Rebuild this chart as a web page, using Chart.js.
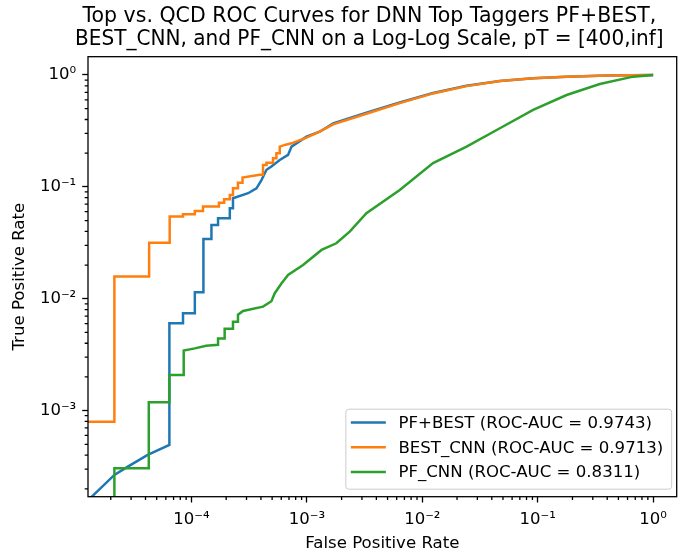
<!DOCTYPE html>
<html>
<head>
<meta charset="utf-8">
<script src="https://cdn.jsdelivr.net/npm/chart.js@4.4.0/dist/chart.umd.min.js"></script>
<style>
    html, body { margin: 0; padding: 0; background: #fff; }
    #wrap { width: 679px; height: 554px; }
</style>
</head>
<body>
<div id="wrap"><canvas id="rocChart" width="679" height="554"></canvas></div>
<script>
// --- DATOS ---
const pfBestFpr = [1.19e-5, 1.40e-5, 2.15e-5, 2.81e-5, 4.18e-5, 6.44e-5, 6.44e-5, 8.45e-5, 8.45e-5, 1.07e-4,
    1.07e-4, 1.27e-4, 1.27e-4, 1.49e-4, 1.49e-4, 1.70e-4, 1.70e-4, 2.15e-4, 2.15e-4, 2.29e-4,
    2.29e-4, 3.10e-4, 3.66e-4, 4.04e-4, 4.47e-4, 4.93e-4, 5.82e-4, 6.87e-4, 7.36e-4, 9.93e-4,
    1.29e-3, 1.69e-3, 3.28e-3, 6.38e-3, 1.24e-2, 2.42e-2, 4.70e-2, 9.13e-2, 0.178, 0.40, 1.0];
const pfBestTpr = [1.48e-4, 1.74e-4, 2.66e-4, 3.16e-4, 4.02e-4, 4.94e-4, 6.04e-3, 6.04e-3, 7.42e-3, 7.42e-3,
    1.14e-2, 1.14e-2, 3.42e-2, 3.42e-2, 4.57e-2, 4.57e-2, 5.24e-2, 5.24e-2, 6.44e-2, 6.44e-2,
    7.91e-2, 8.77e-2, 9.71e-2, 0.115, 0.142, 0.152, 0.174, 0.193, 0.229, 0.281,
    0.311, 0.370, 0.460, 0.568, 0.690, 0.800, 0.885, 0.935, 0.966, 0.990, 1.0];

const bestCnnFpr = [1.0e-5, 2.15e-5, 2.15e-5, 4.30e-5, 4.30e-5, 6.48e-5, 6.48e-5, 8.45e-5, 8.45e-5, 1.07e-4,
    1.07e-4, 1.26e-4, 1.26e-4, 1.73e-4, 1.73e-4, 1.92e-4, 1.92e-4, 2.15e-4, 2.15e-4, 2.29e-4,
    2.29e-4, 2.53e-4, 2.53e-4, 2.77e-4, 2.77e-4, 3.91e-4, 4.17e-4, 4.17e-4, 4.47e-4, 4.47e-4,
    5.09e-4, 5.09e-4, 5.45e-4, 5.45e-4, 5.82e-4, 5.82e-4, 6.43e-4, 7.36e-4, 9.93e-4, 1.29e-3,
    1.69e-3, 3.28e-3, 6.38e-3, 1.24e-2, 2.42e-2, 4.70e-2, 9.13e-2, 0.178, 0.40, 1.0];
const bestCnnTpr = [7.97e-4, 7.97e-4, 1.58e-2, 1.58e-2, 3.17e-2, 3.17e-2, 5.42e-2, 5.42e-2, 5.69e-2, 5.69e-2,
    6.09e-2, 6.09e-2, 6.66e-2, 6.66e-2, 7.22e-2, 7.22e-2, 7.75e-2, 7.75e-2, 8.47e-2, 8.47e-2,
    9.71e-2, 9.71e-2, 0.109, 0.109, 0.121, 0.128, 0.128, 0.157, 0.157, 0.164,
    0.164, 0.180, 0.180, 0.200, 0.200, 0.229, 0.237, 0.245, 0.275, 0.311,
    0.362, 0.450, 0.560, 0.684, 0.795, 0.882, 0.933, 0.965, 0.990, 1.0];

const pfCnnFpr = [2.15e-5, 2.15e-5, 4.27e-5, 4.27e-5, 6.44e-5, 6.44e-5, 8.57e-5, 8.57e-5, 1.07e-4, 1.34e-4,
    1.70e-4, 1.70e-4, 1.94e-4, 1.94e-4, 2.29e-4, 2.29e-4, 2.53e-4, 2.53e-4, 2.80e-4, 4.17e-4,
    4.93e-4, 5.27e-4, 6.02e-4, 6.87e-4, 9.27e-4, 1.34e-3, 1.80e-3, 2.35e-3, 3.28e-3, 6.38e-3,
    1.24e-2, 2.42e-2, 4.70e-2, 9.13e-2, 0.178, 0.345, 0.671, 1.0];
const pfCnnTpr = [1.0e-4, 3.05e-4, 3.05e-4, 1.19e-3, 1.19e-3, 2.08e-3, 2.08e-3, 3.44e-3, 3.60e-3, 3.80e-3,
    3.87e-3, 4.40e-3, 4.40e-3, 5.40e-3, 5.40e-3, 6.24e-3, 6.24e-3, 7.20e-3, 7.78e-3, 8.50e-3,
    9.50e-3, 1.12e-2, 1.37e-2, 1.63e-2, 2.00e-2, 2.73e-2, 3.13e-2, 3.98e-2, 5.81e-2, 9.38e-2,
    0.163, 0.229, 0.334, 0.487, 0.662, 0.831, 0.966, 1.0];

const seriesNames = ['PF+BEST (ROC-AUC = 0.9743)', 'BEST_CNN (ROC-AUC = 0.9713)', 'PF_CNN (ROC-AUC = 0.8311)'];
const seriesColors = ['#1f77b4', '#ff7f0e', '#2ca02c'];

const xTickValues = [1e-4, 1e-3, 1e-2, 1e-1, 1];
const xTickLabels = ['10⁻⁴', '10⁻³', '10⁻²', '10⁻¹', '10⁰'];
const yTickValues = [1e-3, 1e-2, 1e-1, 1];
const yTickLabels = ['10⁻³', '10⁻²', '10⁻¹', '10⁰'];

const FONT = 'DejaVu Sans';

function toPoints(fpr, tpr) {
    return fpr.map((x, i) => ({ x: x, y: tpr[i] }));
}

// marco, ticks menores y leyenda estilo matplotlib
const mplFrame = {
    id: 'mplFrame',
    afterLayout(chart) {
        // el titulo del original queda un poco a la izquierda del centro del area
        if (chart.titleBlock) {
            chart.titleBlock.left -= 13;
            chart.titleBlock.right -= 13;
        }
    },
    afterDraw(chart) {
        const ctx = chart.ctx;
        const a = chart.chartArea;
        const xs = chart.scales.x, ys = chart.scales.y;
        ctx.save();
        ctx.strokeStyle = '#000';
        ctx.lineWidth = 1.3;
        ctx.beginPath();
        for (let d = -6; d <= 1; d++) {
            for (let k = 2; k <= 9; k++) {
                const v = k * Math.pow(10, d);
                if (v > xs.min && v < xs.max) {
                    const px = xs.getPixelForValue(v);
                    ctx.moveTo(px, a.bottom);
                    ctx.lineTo(px, a.bottom + 3.3);
                }
                if (v > ys.min && v < ys.max) {
                    const py = ys.getPixelForValue(v);
                    ctx.moveTo(a.left, py);
                    ctx.lineTo(a.left - 3.3, py);
                }
            }
        }
        ctx.stroke();
        ctx.strokeRect(a.left, a.top, a.right - a.left, a.bottom - a.top);

        // leyenda
        ctx.font = '16.6px "' + FONT + '"';
        const sets = chart.data.datasets;
        let maxW = 0;
        sets.forEach(ds => { maxW = Math.max(maxW, ctx.measureText(ds.label).width); });
        const w = 52.6 + maxW + 8.4, h = 80;
        const bx = a.right - 5 - w, by = a.bottom - 7.5 - h;
        const r = 3;
        ctx.beginPath();
        ctx.moveTo(bx + r, by);
        ctx.arcTo(bx + w, by, bx + w, by + h, r);
        ctx.arcTo(bx + w, by + h, bx, by + h, r);
        ctx.arcTo(bx, by + h, bx, by, r);
        ctx.arcTo(bx, by, bx + w, by, r);
        ctx.closePath();
        ctx.fillStyle = 'rgba(255,255,255,0.8)';
        ctx.fill();
        ctx.strokeStyle = '#cccccc';
        ctx.lineWidth = 1;
        ctx.stroke();
        const rows = [13.4, 38, 62.7];
        sets.forEach((ds, i) => {
            const cy = by + rows[i];
            ctx.strokeStyle = ds.borderColor;
            ctx.lineWidth = 2.5;
            ctx.beginPath();
            ctx.moveTo(bx + 5, cy);
            ctx.lineTo(bx + 40, cy);
            ctx.stroke();
            ctx.fillStyle = '#000';
            ctx.textBaseline = 'middle';
            ctx.textAlign = 'left';
            ctx.fillText(ds.label, bx + 52.6, cy + 1);
        });
        ctx.restore();
    }
};

const datasets = [
    { label: seriesNames[0], data: toPoints(pfBestFpr, pfBestTpr), order: 3 },
    { label: seriesNames[1], data: toPoints(bestCnnFpr, bestCnnTpr), order: 2 },
    { label: seriesNames[2], data: toPoints(pfCnnFpr, pfCnnTpr), order: 1 }
].map((ds, i) => Object.assign(ds, {
    borderColor: seriesColors[i],
    backgroundColor: seriesColors[i],
    borderWidth: 2.5,
    showLine: true,
    pointRadius: 0,
    tension: 0,
    clip: 0
}));

new Chart(document.getElementById('rocChart'), {
    type: 'scatter',
    data: { datasets: datasets },
    plugins: [mplFrame],
    options: {
        responsive: false,
        animation: false,
        devicePixelRatio: 1,
        layout: { padding: { top: 0, right: 2.3, bottom: 0, left: 0 } },
        plugins: {
            legend: { display: false },
            tooltip: { enabled: false },
            title: {
                display: true,
                fullSize: false,
                text: ['Top vs. QCD ROC Curves for DNN Top Taggers PF+BEST,',
                       'BEST_CNN, and PF_CNN on a Log-Log Scale, pT = [400,inf]'],
                color: '#000',
                font: { family: FONT, size: 20.5, weight: 'normal', lineHeight: 1.08 },
                padding: { top: 6, bottom: 6.4 }
            }
        },
        scales: {
            x: {
                type: 'logarithmic',
                position: 'bottom',
                min: 1.27e-5,
                max: 1.6,
                afterBuildTicks: s => { s.ticks = xTickValues.map(v => ({ value: v })); },
                afterFit: s => { s.height = 57.3; },
                ticks: {
                    autoSkip: false,
                    maxRotation: 0,
                    color: '#000',
                    padding: 7,
                    font: { family: FONT, size: 16.5 },
                    callback: v => {
                        const i = xTickValues.indexOf(v);
                        return i >= 0 ? xTickLabels[i] : '';
                    }
                },
                grid: { display: true, drawOnChartArea: false, drawTicks: true, tickLength: 5.8, tickColor: '#000', tickWidth: 1.3 },
                border: { display: false },
                title: {
                    display: true,
                    text: 'False Positive Rate',
                    color: '#000',
                    font: { family: FONT, size: 16.6 },
                    padding: { top: 0, bottom: 0 }
                }
            },
            y: {
                type: 'logarithmic',
                position: 'left',
                min: 1.70e-4,
                max: 1.457,
                afterBuildTicks: s => { s.ticks = yTickValues.map(v => ({ value: v })); },
                afterFit: s => { s.width = 88; },
                ticks: {
                    autoSkip: false,
                    color: '#000',
                    padding: 6,
                    font: { family: FONT, size: 16.5 },
                    callback: v => {
                        const i = yTickValues.indexOf(v);
                        return i >= 0 ? yTickLabels[i] : '';
                    }
                },
                grid: { display: true, drawOnChartArea: false, drawTicks: true, tickLength: 5.8, tickColor: '#000', tickWidth: 1.3 },
                border: { display: false },
                title: {
                    display: true,
                    text: 'True Positive Rate',
                    color: '#000',
                    font: { family: FONT, size: 16.6 },
                    padding: { top: 10, bottom: 0 }
                }
            }
        }
    }
});
</script>
</body>
</html>
